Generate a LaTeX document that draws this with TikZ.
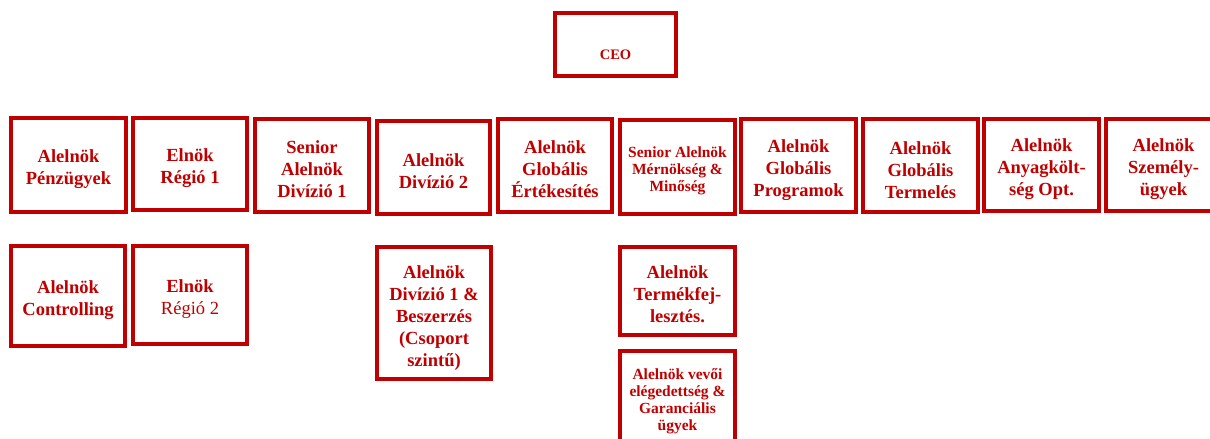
\documentclass[tikz,border=0pt]{standalone}
\usepackage{fontspec}
\setmainfont{Liberation Serif}
\definecolor{cred}{HTML}{C00000}
\tikzset{
  orgbox/.style={draw=cred, line width=4pt, rectangle, inner sep=0pt},
  lbl/.style={align=center, inner sep=0pt, text=cred, font=\bfseries\fontsize{18.5}{22}\selectfont},
  smalllbl/.style={lbl, font=\bfseries\fontsize{15.5}{17}\selectfont},
}
\begin{document}
\begin{tikzpicture}[x=1pt,y=-1pt]
\useasboundingbox (0,0) rectangle (1210,439);
\fill[white] (0,0) rectangle (1210,439);
\clip (0,0) rectangle (1210,439);
% CEO
\node[orgbox, minimum width=121pt, minimum height=63pt,
  label={[lbl, font=\bfseries\fontsize{14.5}{17}\selectfont, yshift=-10pt]center:CEO}] (ceo) at (615.5,44.5) {};
% Row 1
\node[orgbox, minimum width=115pt, minimum height=94pt,
  label={[lbl, yshift=-4pt]center:{Alelnök\\Pénzügyek}}] (a) at (68.5,165) {};
\node[orgbox, minimum width=114pt, minimum height=92pt,
  label={[lbl, yshift=-4pt]center:{Elnök\\Régió 1}}] (b) at (190,164) {};
\node[orgbox, minimum width=114pt, minimum height=93pt,
  label={[lbl, yshift=-3.5pt]center:{Senior\\Alelnök\\Divízió 1}}] (c) at (312,165.5) {};
\node[orgbox, minimum width=113pt, minimum height=93pt,
  label={[lbl, yshift=-3.5pt]center:{Alelnök\\Divízió 2}}] (d) at (433.5,167.5) {};
\node[orgbox, minimum width=114pt, minimum height=93pt,
  label={[lbl, yshift=-4pt]center:{Alelnök\\Globális\\Értékesítés}}] (e) at (555,165.5) {};
\node[orgbox, minimum width=115pt, minimum height=94pt,
  label={[smalllbl, yshift=-3.5pt]center:{Senior Alelnök\\Mérnökség \&\\Minőség}}] (f) at (677.5,167) {};
\node[orgbox, minimum width=115pt, minimum height=93pt,
  label={[lbl, yshift=-4.5pt]center:{Alelnök\\Globális\\Programok}}] (g) at (798.5,165.5) {};
\node[orgbox, minimum width=115pt, minimum height=93pt,
  label={[lbl, yshift=-4.5pt]center:{Alelnök\\Globális\\Termelés}}] (h) at (920.5,165.5) {};
\node[orgbox, minimum width=115pt, minimum height=92pt,
  label={[lbl, yshift=-4.5pt]center:{Alelnök\\Anyagkölt-\\ség Opt.}}] (i) at (1041.5,165) {};
\node[orgbox, minimum width=115pt, minimum height=92pt,
  label={[lbl, yshift=-4.5pt]center:{Alelnök\\Személy-\\ügyek}}] (j) at (1163.5,165) {};
% Row 2
\node[orgbox, minimum width=114pt, minimum height=100pt,
  label={[lbl, yshift=-4pt]center:{Alelnök\\Controlling}}] (k) at (68,296) {};
\node[orgbox, minimum width=114pt, minimum height=98pt,
  label={[lbl, yshift=-4pt]center:{Elnök\\\mdseries Régió 2}}] (l) at (190,295) {};
\node[orgbox, minimum width=114pt, minimum height=132pt,
  label={[lbl, yshift=-5pt]center:{Alelnök\\Divízió 1 \&\\Beszerzés\\(Csoport\\szintű)}}] (m) at (434,313) {};
\node[orgbox, minimum width=115pt, minimum height=88pt,
  label={[lbl, yshift=-3pt]center:{Alelnök\\Termékfej-\\lesztés.}}] (n) at (677.5,291) {};
\node[orgbox, minimum width=115pt, minimum height=94pt,
  label={[smalllbl, yshift=-3pt]center:{Alelnök vevői\\elégedettség \&\\Garanciális\\ügyek}}] (o) at (677.5,398) {};
\end{tikzpicture}
\end{document}
